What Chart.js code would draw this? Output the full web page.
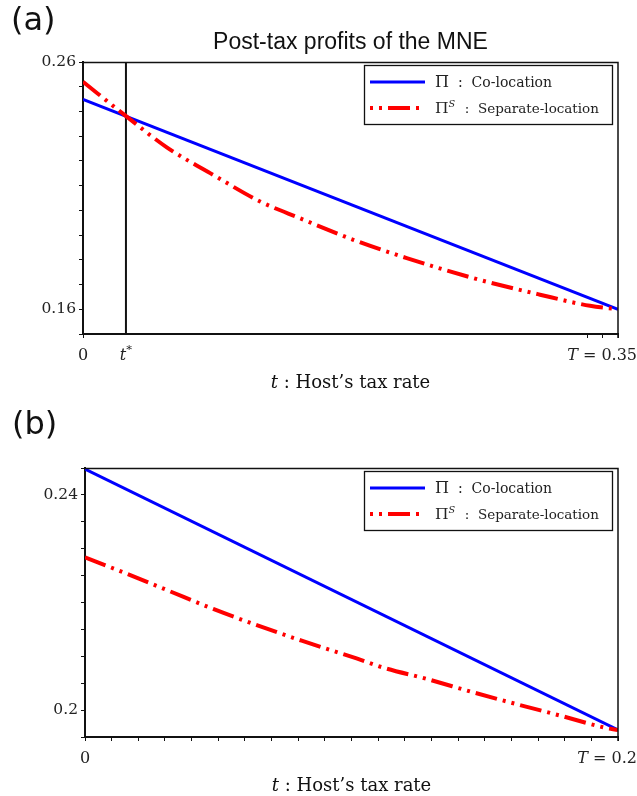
<!DOCTYPE html>
<html><head><meta charset="utf-8">
<script src="https://cdn.jsdelivr.net/npm/chart.js@4"></script>
<style>
html,body{margin:0;padding:0;background:#fff;}
#wrap{position:relative;width:637px;height:796px;overflow:hidden;background:#fff;}
.panel{position:absolute;left:0;width:637px;height:398px;}
canvas{display:block;}
</style></head><body>
<div id="wrap">
<div class="panel" style="top:0"><canvas id="ca" width="637" height="398"></canvas></div>
<div class="panel" style="top:398px"><canvas id="cb" width="637" height="398"></canvas></div>
</div>
<script>
// ---------- Panel (a) data ----------
const titleA = 'Post-tax profits of the MNE';
const tStarA = 0.0281;
const coLocTA = [0, 0.35];
const coLocA  = [0.2449, 0.1600];
const sepTA = [0, 0.0286, 0.0548, 0.0853, 0.1158, 0.1420, 0.1768, 0.2118, 0.2553, 0.2990, 0.3317, 0.35];
const sepA  = [0.2520, 0.2379, 0.2255, 0.2143, 0.2036, 0.1968, 0.1881, 0.1807, 0.1726, 0.1659, 0.1614, 0.1600];
const yRangeA = [0.15, 0.26];
const yTickStepA = 0.01;
const yLabelsA = [0.16, 0.26];
const xRangeA = [0, 0.35];
const xTicksA = [0, 0.33, 0.34, 0.35];
const xLabelValsA = [0, tStarA, 0.35];
const xLabelTextA = ['0', '$t$^*', '$T$ = 0.35'];

// ---------- Panel (b) data ----------
const coLocTB = [0, 0.2];
const coLocB  = [0.2448, 0.1963];
const sepTB = [0, 0.0144, 0.0313, 0.0481, 0.0650, 0.0813, 0.1019, 0.1119, 0.1282, 0.1457, 0.1620, 0.1789, 0.1945, 0.2];
const sepB  = [0.2284, 0.2256, 0.2222, 0.2188, 0.2157, 0.2129, 0.2096, 0.2079, 0.2058, 0.2033, 0.2011, 0.1989, 0.1968, 0.1963];
const yRangeB = [0.195, 0.245];
const yTickStepB = 0.005;
const yLabelsB = [0.2, 0.24];
const xRangeB = [0, 0.2];
const xTickStepB = 0.01;
const xLabelValsB = [0, 0.2];
const xLabelTextB = ['0', '$T$ = 0.2'];

// ---------- shared text ----------
const xAxisTitle = '$t$ : Host’s tax rate';
const legendLabels = ['Π  :  Co-location', 'Π^S  :  Separate-location'];
const panelTags = ['(a)', '(b)'];

const SERIF = '"DejaVu Serif"';
const RED_DASH = [22, 6, 3, 6, 3, 6];

function parseRich(s){
  const runs=[]; let it=false;
  for(let i=0;i<s.length;i++){
    const c=s[i];
    if(c==='$'){it=!it;continue;}
    if(c==='^'){const n=s[++i]; runs.push({t:n,it:/[A-Za-z]/.test(n),sup:true}); continue;}
    const greek=/[\u0370-\u03FF]/.test(c);
    const last=runs[runs.length-1];
    if(last && !last.sup && !last.big && !greek && last.it===it) last.t+=c;
    else runs.push({t:c,it:it,sup:false,big:greek});
  }
  return runs;
}
function fontStr(r,size,fam){ const sz=r.sup?size*0.72:(r.big?size*1.15:size); return (r.it?'italic ':'')+sz+'px '+fam; }
function richWidth(ctx,runs,size,fam){ let w=0; for(const r of runs){ctx.font=fontStr(r,size,fam); w+=ctx.measureText(r.t).width;} return w; }
function drawRich(ctx,runs,x,y,size,fam){
  ctx.textAlign='left'; ctx.textBaseline='alphabetic';
  for(const r of runs){ ctx.font=fontStr(r,size,fam); ctx.fillText(r.t,x,r.sup?y-size*0.45:y); x+=ctx.measureText(r.t).width + (r.sup?1:0); }
}

function buildTicks(min,max,step){ const out=[]; const n=Math.round((max-min)/step); for(let k=0;k<=n;k++) out.push(+(min+k*step).toFixed(6)); return out; }

function makeDecor(cfg){
  return {
    id:'decor',
    afterDraw(chart){
      const ctx=chart.ctx, a=chart.chartArea, xs=chart.scales.x;
      ctx.save();
      // frame top and right
      ctx.strokeStyle='#111'; ctx.lineWidth=1.5;
      ctx.beginPath(); ctx.moveTo(a.left,a.top+0.5); ctx.lineTo(a.right,a.top+0.5); ctx.lineTo(a.right,a.bottom+4); ctx.stroke();
      ctx.fillStyle='#111';
      // panel tag
      ctx.font='32px "DejaVu Sans"'; ctx.textAlign='left'; ctx.textBaseline='alphabetic';
      ctx.fillText(cfg.tag, cfg.tagX, cfg.tagY);
      // title
      if(cfg.title){ ctx.font='23px "Liberation Sans"'; ctx.textAlign='center'; ctx.fillText(cfg.title,(a.left+a.right)/2,49); }
      // x tick labels
      ctx.fillStyle='#222';
      cfg.xLabelVals.forEach((v,i)=>{
        const runs=parseRich(cfg.xLabelText[i]);
        const w=richWidth(ctx,runs,16,SERIF);
        let left=xs.getPixelForValue(v)-w/2;
        if(left+w>chart.width) left=chart.width-w;
        drawRich(ctx,runs,left,a.bottom+26,16,SERIF);
      });
      // x axis title
      ctx.fillStyle='#111';
      const tr=parseRich(xAxisTitle); const tw=richWidth(ctx,tr,18,SERIF);
      drawRich(ctx,tr,(a.left+a.right)/2-tw/2,a.bottom+54,18,SERIF);
      // legend
      const bw=248,bh=59; const bx=a.right-6-bw, by=a.top+3;
      ctx.fillStyle='#fff'; ctx.fillRect(bx,by,bw,bh);
      ctx.strokeStyle='#111'; ctx.lineWidth=1.3; ctx.strokeRect(bx+0.5,by+0.5,bw,bh);
      // blue sample
      ctx.setLineDash([]); ctx.strokeStyle='#0000ff'; ctx.lineWidth=3;
      ctx.beginPath(); ctx.moveTo(bx+6,by+17); ctx.lineTo(bx+61,by+17); ctx.stroke();
      // red sample
      ctx.strokeStyle='#ff0000'; ctx.lineWidth=4; ctx.lineCap='butt';
      ctx.setLineDash(RED_DASH); ctx.lineDashOffset=28;
      ctx.beginPath(); ctx.moveTo(bx+6,by+43); ctx.lineTo(bx+61,by+43); ctx.stroke();
      ctx.setLineDash([]);
      ctx.fillStyle='#222';
      drawRich(ctx,parseRich(legendLabels[0]),bx+71,by+22,14,SERIF);
      drawRich(ctx,parseRich(legendLabels[1]),bx+71,by+48,13.5,SERIF);
      ctx.restore();
    }
  };
}

function build(id,cfg){
  const datasets=[
    {data:cfg.sepT.map((t,i)=>({x:t,y:cfg.sep[i]})), borderColor:'#ff0000', borderWidth:4, borderDash:RED_DASH, borderCapStyle:'butt', cubicInterpolationMode:'monotone', pointRadius:0, fill:false},
    {data:cfg.coT.map((t,i)=>({x:t,y:cfg.co[i]})), borderColor:'#0000ff', borderWidth:3, pointRadius:0, fill:false}
  ];
  if(cfg.tStar!=null){
    datasets.push({data:[{x:cfg.tStar,y:cfg.yRange[0]},{x:cfg.tStar,y:cfg.yRange[1]}], borderColor:'#111', borderWidth:2, pointRadius:0, fill:false});
  }
  const yTicks=buildTicks(cfg.yRange[0],cfg.yRange[1],cfg.yStep);
  return new Chart(document.getElementById(id),{
    type:'line',
    data:{datasets},
    options:{
      responsive:false, animation:false, events:[],
      layout:{padding:cfg.padding},
      plugins:{legend:{display:false},tooltip:{enabled:false},title:{display:false}},
      scales:{
        x:{type:'linear',min:cfg.xRange[0],max:cfg.xRange[1],
          afterBuildTicks:s=>{s.ticks=cfg.xTicks.map(v=>({value:v}));},
          afterFit:s=>{s.height=cfg.xHeight;},
          ticks:{display:false,autoSkip:false},
          grid:{display:true,drawOnChartArea:false,drawTicks:true,tickLength:4,color:'#111',lineWidth:1},
          border:{display:true,color:'#111',width:2}},
        y:{type:'linear',min:cfg.yRange[0],max:cfg.yRange[1],
          afterBuildTicks:s=>{s.ticks=yTicks.map(v=>({value:v}));},
          afterFit:s=>{s.width=50;},
          ticks:{autoSkip:false,padding:3,color:'#222',font:{family:'DejaVu Serif',size:15.5},
            callback:(v)=>{const m=cfg.yLabels.find(l=>Math.abs(l-v)<1e-7); return m===undefined?'':String(m);}},
          grid:{display:true,drawOnChartArea:false,drawTicks:true,tickLength:4,color:'#111',lineWidth:1},
          border:{display:true,color:'#111',width:2}}
      }
    },
    plugins:[makeDecor(cfg)]
  });
}

build('ca',{
  sepT:sepTA, sep:sepA, coT:coLocTA, co:coLocA, tStar:tStarA,
  yRange:yRangeA, yStep:yTickStepA, yLabels:yLabelsA,
  xRange:xRangeA, xTicks:xTicksA, xLabelVals:xLabelValsA, xLabelText:xLabelTextA,
  padding:{left:33,right:19,top:62,bottom:0}, xHeight:64,
  tag:panelTags[0], tagX:11, tagY:30, title:titleA
});
build('cb',{
  sepT:sepTB, sep:sepB, coT:coLocTB, co:coLocB, tStar:null,
  yRange:yRangeB, yStep:yTickStepB, yLabels:yLabelsB,
  xRange:xRangeB, xTicks:buildTicks(xRangeB[0],xRangeB[1],xTickStepB), xLabelVals:xLabelValsB, xLabelText:xLabelTextB,
  padding:{left:35,right:19,top:70,bottom:0}, xHeight:59,
  tag:panelTags[1], tagX:12, tagY:36, title:null
});
</script>
</body></html>
